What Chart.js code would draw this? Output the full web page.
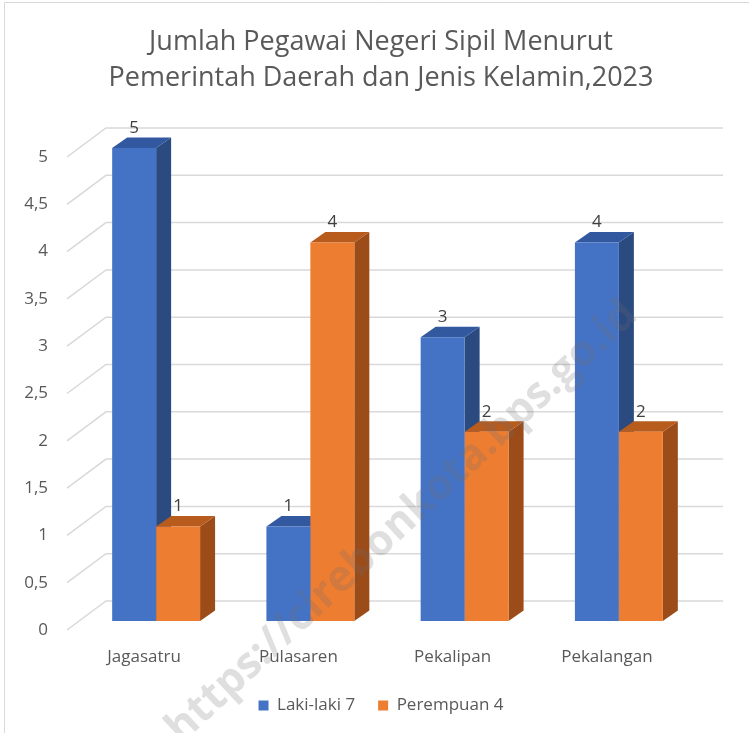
<!DOCTYPE html>
<html>
<head>
<meta charset="utf-8">
<script src="https://cdn.jsdelivr.net/npm/chart.js@4.4.1/dist/chart.umd.min.js"></script>
<style>
    html, body { margin: 0; padding: 0; background: #fff; overflow: hidden; }
    #wrap { position: relative; width: 757px; height: 733px; }
</style>
</head>
<body>
<div id="wrap"><canvas id="barChart"></canvas></div>
<script>
// Данные графика
const categories = ['Jagasatru', 'Pulasaren', 'Pekalipan', 'Pekalangan'];
const seriesNames = ['Laki-laki 7', 'Perempuan 4'];
const lakiLaki = [5, 1, 3, 4];
const perempuan = [1, 4, 2, 2];
const yTicks = [0, 0.5, 1, 1.5, 2, 2.5, 3, 3.5, 4, 4.5, 5];

const titleLines = ['Jumlah Pegawai Negeri Sipil Menurut', 'Pemerintah Daerah dan Jenis Kelamin,2023'];
const watermark = 'https://cirebonkota.bps.go.id';

// Цвета граней: фронт, бок, верх
const faceColors = [
    { front: '#4472C4', side: '#2B4A80', top: '#3259A0' },
    { front: '#ED7D31', side: '#9B4C19', top: '#B85C1E' }
];

const FONT = '"Open Sans", "DejaVu Sans", sans-serif';

// Смещения псевдо-3D
const WALL = { dx: 39, dy: 29 };   // задняя стенка относительно плоскости подписей
const BAR = { dx: 12, dy: 9 };     // передняя грань столбца
const DEPTH = { dx: 15, dy: 10.5 }; // глубина столбца

// Плагин: фон, рамка, сетка на задней стенке, грани столбцов, подписи, водяной знак
const fake3d = {
    id: 'fake3d',
    beforeDraw(chart) {
        const ctx = chart.ctx;
        ctx.save();
        ctx.fillStyle = '#fff';
        ctx.fillRect(0, 0, chart.width, chart.height);
        ctx.strokeStyle = '#d9d9d9';
        ctx.lineWidth = 1;
        ctx.beginPath();
        ctx.moveTo(4.5, chart.height);
        ctx.lineTo(4.5, 2.5);
        ctx.lineTo(chart.width, 2.5);
        ctx.stroke();
        ctx.restore();
    },
    beforeDatasetsDraw(chart) {
        const ctx = chart.ctx;
        const area = chart.chartArea;
        const y = chart.scales.y;

        // сетка
        ctx.save();
        ctx.strokeStyle = '#d9d9d9';
        ctx.lineWidth = 1.5;
        yTicks.forEach(v => {
            const py = y.getPixelForValue(v);
            ctx.beginPath();
            ctx.moveTo(area.left, py);
            ctx.lineTo(area.left + WALL.dx, py - WALL.dy);
            ctx.lineTo(area.right + WALL.dx, py - WALL.dy);
            ctx.stroke();
        });
        ctx.restore();

        // боковые и верхние грани, потом фронт рисует сам Chart.js
        ctx.save();
        ctx.translate(BAR.dx, -BAR.dy);
        for (let i = 0; i < categories.length; i++) {
            chart.data.datasets.forEach((ds, d) => {
                const el = chart.getDatasetMeta(d).data[i];
                const l = el.x - el.width / 2, r = el.x + el.width / 2;
                const t = el.y, b = el.base;
                ctx.fillStyle = faceColors[d].side;
                ctx.beginPath();
                ctx.moveTo(r, t);
                ctx.lineTo(r + DEPTH.dx, t - DEPTH.dy);
                ctx.lineTo(r + DEPTH.dx, b - DEPTH.dy);
                ctx.lineTo(r, b);
                ctx.closePath();
                ctx.fill();
                ctx.fillStyle = faceColors[d].top;
                ctx.beginPath();
                ctx.moveTo(l, t);
                ctx.lineTo(l + DEPTH.dx, t - DEPTH.dy);
                ctx.lineTo(r + DEPTH.dx, t - DEPTH.dy);
                ctx.lineTo(r, t);
                ctx.closePath();
                ctx.fill();
            });
        }
    },
    afterDatasetsDraw(chart) {
        const ctx = chart.ctx;
        ctx.restore();

        ctx.save();
        ctx.fillStyle = '#404040';
        ctx.font = '17px ' + FONT;
        ctx.textAlign = 'center';
        ctx.textBaseline = 'middle';
        chart.data.datasets.forEach((ds, d) => {
            chart.getDatasetMeta(d).data.forEach((el, i) => {
                ctx.fillText(ds.data[i], el.x + BAR.dx, el.y - BAR.dy - 20);
            });
        });
        ctx.restore();
    },
    afterDraw(chart) {
        const ctx = chart.ctx;
        ctx.save();
        ctx.translate(402, 522);
        ctx.rotate(-43 * Math.PI / 180);
        ctx.font = 'bold 43px ' + FONT;
        ctx.fillStyle = 'rgba(110,110,110,0.22)';
        ctx.textAlign = 'center';
        ctx.textBaseline = 'middle';
        ctx.fillText(watermark, 0, 0);
        ctx.restore();
    }
};

document.addEventListener('DOMContentLoaded', function () {
    const ctx = document.getElementById('barChart').getContext('2d');

    new Chart(ctx, {
        type: 'bar',
        data: {
            labels: categories,
            datasets: [
                { label: seriesNames[0], data: lakiLaki, backgroundColor: faceColors[0].front, clip: false },
                { label: seriesNames[1], data: perempuan, backgroundColor: faceColors[1].front, clip: false }
            ]
        },
        options: {
            responsive: true,
            maintainAspectRatio: false,
            animation: false,
            layout: { padding: { top: 0, left: 5, right: 0, bottom: 9 } },
            datasets: {
                bar: { categoryPercentage: 0.57, barPercentage: 1, borderWidth: 0 }
            },
            scales: {
                x: {
                    grid: { display: false, drawTicks: false },
                    border: { display: false },
                    ticks: { color: '#595959', font: { family: FONT, size: 17 }, padding: 17 },
                    afterFit(s) { s.height = 44; }
                },
                y: {
                    min: 0,
                    max: 5,
                    grid: { display: false, drawTicks: false },
                    border: { display: false },
                    ticks: {
                        stepSize: 0.5,
                        color: '#595959',
                        font: { family: FONT, size: 17 },
                        padding: 19,
                        callback: v => String(v).replace('.', ',')
                    },
                    afterFit(s) { s.width = 62; }
                },
                // пустая ось справа, чтобы задать правый край области
                yRight: {
                    position: 'right',
                    grid: { display: false, drawTicks: false },
                    border: { display: false },
                    ticks: { display: false },
                    afterFit(s) { s.width = 73; }
                }
            },
            plugins: {
                title: {
                    display: true,
                    text: titleLines,
                    color: '#595959',
                    font: { family: FONT, size: 27, weight: 'normal', lineHeight: '36px' },
                    padding: { top: 24, bottom: 61 }
                },
                legend: {
                    position: 'bottom',
                    labels: {
                        boxWidth: 10,
                        boxHeight: 10,
                        color: '#595959',
                        font: { family: FONT, size: 17 },
                        padding: 23
                    }
                },
                tooltip: { enabled: false }
            }
        },
        plugins: [fake3d]
    });
});
</script>
</body>
</html>
